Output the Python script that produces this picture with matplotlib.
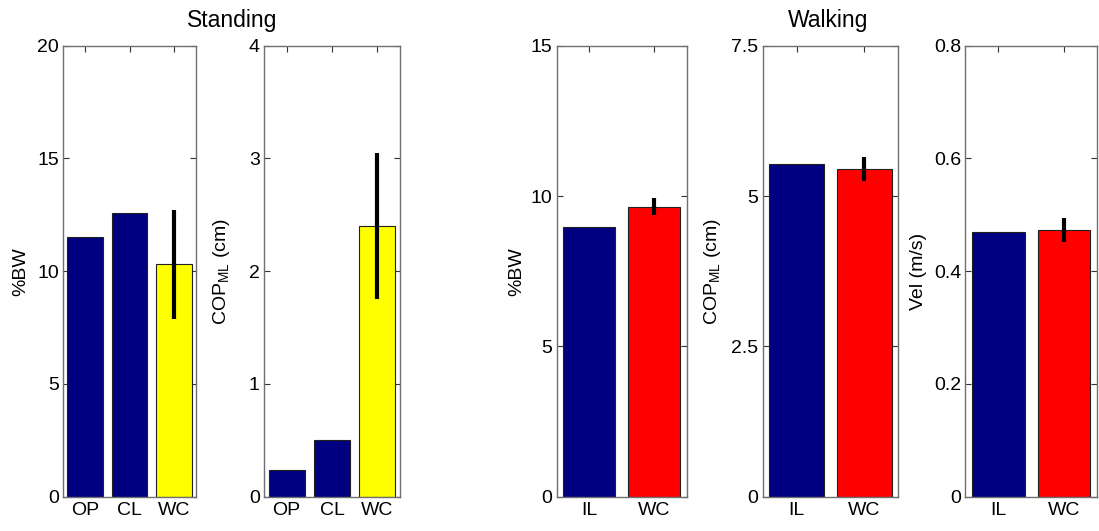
import matplotlib
matplotlib.use("Agg")
import matplotlib.pyplot as plt

plt.rcParams['font.family'] = ['Liberation Sans', 'DejaVu Sans']
plt.rcParams['mathtext.fontset'] = 'custom'
plt.rcParams['mathtext.rm'] = 'Liberation Sans'
plt.rcParams['mathtext.it'] = 'Liberation Sans'

NAVY = '#000080'
YELLOW = '#ffff00'
RED = '#ff0000'

# standing
stand_groups = ['OP', 'CL', 'WC']
stand_bw = [11.5, 12.6, 10.3]
stand_bw_err = [0, 0, 2.43]
stand_cop = [0.24, 0.50, 2.40]
stand_cop_err = [0, 0, 0.65]
stand_colors = [NAVY, NAVY, YELLOW]

# walking
walk_groups = ['IL', 'WC']
walk_bw = [8.98, 9.65]
walk_bw_err = [0, 0.28]
walk_cop = [5.54, 5.45]
walk_cop_err = [0, 0.20]
walk_vel = [0.470, 0.473]
walk_vel_err = [0, 0.022]
walk_colors = [NAVY, RED]

W, H = 1099, 531
fig = plt.figure(figsize=(W / 100, H / 100), dpi=100)


def make_axes(x0, x1, y0=45.7, y1=496.7):
    return fig.add_axes([x0 / W, 1 - y1 / H, (x1 - x0) / W, (y1 - y0) / H])


def barplot(ax, groups, vals, errs, colors, ymax, yticks, ylabel, labelx):
    x = list(range(1, len(groups) + 1))
    ax.bar(x, vals, width=0.8, color=colors, edgecolor='#202020', linewidth=0.8, zorder=2)
    for xi, v, e in zip(x, vals, errs):
        if e > 0:
            ax.plot([xi, xi], [v - e, v + e], color='black', lw=3, solid_capstyle='butt', zorder=3)
    ax.set_xlim(0.5, len(groups) + 0.5)
    ax.set_ylim(0, ymax)
    ax.set_xticks(x)
    ax.set_xticklabels(groups)
    ax.set_yticks(yticks)
    ax.set_yticklabels(['%g' % t for t in yticks])
    ax.tick_params(direction='in', length=4, width=0.8, color='#333333',
                   top=True, right=True, labelsize=14)
    ax.tick_params(axis='x', pad=4)
    ax.tick_params(axis='y', pad=3)
    for s in ax.spines.values():
        s.set_color('#707070')
        s.set_linewidth(1.0)
    ax.set_ylabel(ylabel, fontsize=14)
    ax.yaxis.set_label_coords(labelx, 0.5)


cop_label = r'COP$_{\mathregular{ML}}$ (cm)'

ax1 = make_axes(63, 196)
barplot(ax1, stand_groups, stand_bw, stand_bw_err, stand_colors, 20, [0, 5, 10, 15, 20], '%BW', -0.25)
ax2 = make_axes(264, 400)
barplot(ax2, stand_groups, stand_cop, stand_cop_err, stand_colors, 4, [0, 1, 2, 3, 4], cop_label, -0.235)
ax3 = make_axes(556.7, 686.7)
barplot(ax3, walk_groups, walk_bw, walk_bw_err, walk_colors, 15, [0, 5, 10, 15], '%BW', -0.244)
ax4 = make_axes(762.7, 898.3)
barplot(ax4, walk_groups, walk_cop, walk_cop_err, walk_colors, 7.5, [0, 2.5, 5, 7.5], cop_label, -0.293)
ax5 = make_axes(965.3, 1097)
barplot(ax5, walk_groups, walk_vel, walk_vel_err, walk_colors, 0.8, [0, 0.2, 0.4, 0.6, 0.8], 'Vel (m/s)', -0.29)

fig.text(232 / W, 1 - 20 / H, 'Standing', ha='center', va='center', fontsize=16.5)
fig.text(828 / W, 1 - 20 / H, 'Walking', ha='center', va='center', fontsize=16.5)

fig.savefig('out.png', dpi=100)
